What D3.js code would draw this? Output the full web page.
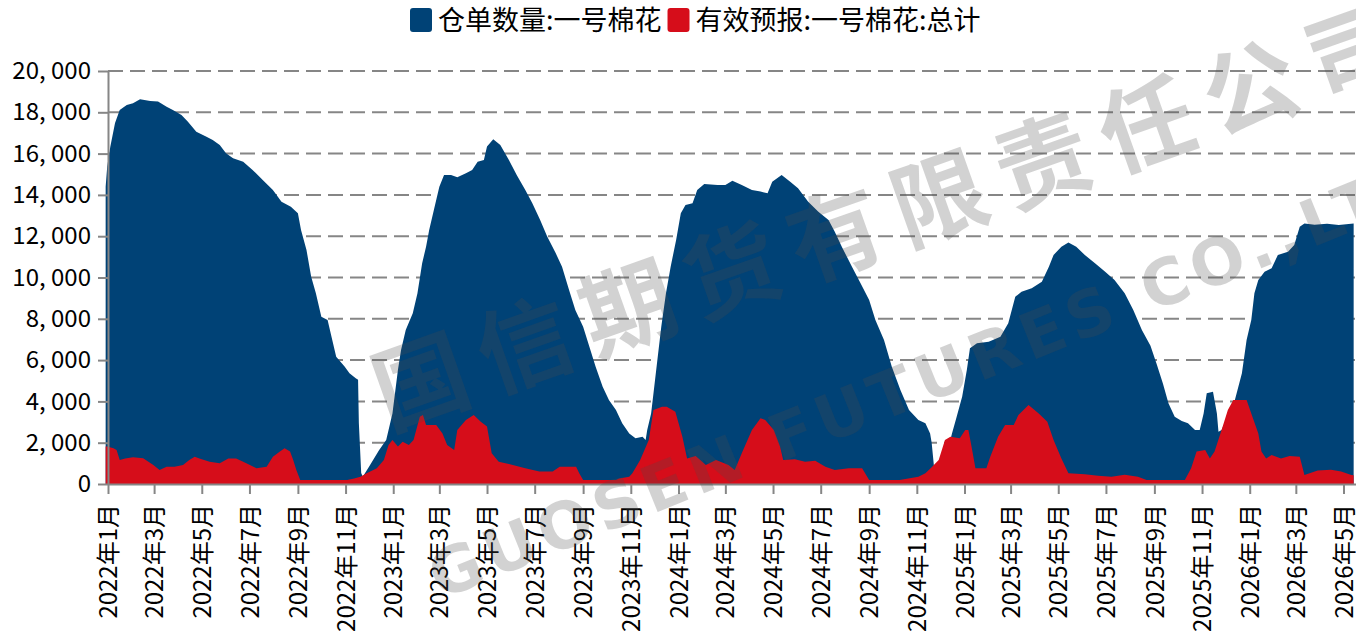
<!DOCTYPE html>
<html>
<head>
<meta charset="utf-8">
<script src="https://cdn.jsdelivr.net/npm/d3@7"></script>
<style>
  body { margin: 0; background: #fff; }
  svg text { font-family: "Noto Sans CJK SC", "Noto Sans", sans-serif; }
</style>
</head>
<body>
<div id="chart"></div>
<script>
// series names
const seriesNames = ["仓单数量:一号棉花", "有效预报:一号棉花:总计"];
const seriesColors = ["#004276", "#d60d1a"];

// 仓单数量 (date, value)
const warrant = [
  ["2021-12-29", 14400], ["2021-12-31", 15370], ["2022-01-04", 16340], ["2022-01-10", 17480],
  ["2022-01-16", 18110], ["2022-01-25", 18350], ["2022-02-02", 18440], ["2022-02-11", 18630],
  ["2022-02-24", 18550], ["2022-03-06", 18520], ["2022-03-17", 18270], ["2022-03-25", 18110],
  ["2022-04-05", 17870], ["2022-04-13", 17550], ["2022-04-24", 17060], ["2022-05-07", 16820],
  ["2022-05-15", 16660], ["2022-05-24", 16420], ["2022-06-01", 16020], ["2022-06-10", 15770],
  ["2022-06-23", 15610], ["2022-07-05", 15210], ["2022-07-18", 14720], ["2022-07-31", 14240],
  ["2022-08-11", 13670], ["2022-08-23", 13430], ["2022-09-01", 13110], ["2022-09-05", 12300],
  ["2022-09-12", 11330], ["2022-09-18", 10040], ["2022-09-24", 9240], ["2022-10-01", 8100],
  ["2022-10-09", 7940], ["2022-10-14", 7130], ["2022-10-20", 6160], ["2022-10-31", 5680],
  ["2022-11-06", 5360], ["2022-11-14", 5120], ["2022-11-17", 5050], ["2022-11-18", 2950],
  ["2022-11-21", 530], ["2022-11-23", 350], ["2022-12-01", 840], ["2022-12-14", 1650],
  ["2022-12-23", 2130], ["2022-12-31", 3420], ["2023-01-07", 5520], ["2023-01-11", 6490],
  ["2023-01-17", 7460], ["2023-01-26", 8270], ["2023-02-01", 9240], ["2023-02-07", 10690],
  ["2023-02-12", 11490], ["2023-02-16", 12300], ["2023-02-22", 13270], ["2023-03-01", 14400],
  ["2023-03-07", 14960], ["2023-03-16", 14960], ["2023-03-24", 14850], ["2023-04-04", 15050],
  ["2023-04-12", 15210], ["2023-04-19", 15610], ["2023-04-27", 15690], ["2023-05-01", 16340],
  ["2023-05-09", 16690], ["2023-05-18", 16420], ["2023-05-29", 15690], ["2023-06-08", 14960],
  ["2023-06-19", 14240], ["2023-06-28", 13590], ["2023-07-08", 12790], ["2023-07-17", 11980],
  ["2023-07-28", 11170], ["2023-08-05", 10520], ["2023-08-14", 9400], ["2023-08-22", 8430],
  ["2023-09-01", 7620], ["2023-09-09", 6650], ["2023-09-17", 5680], ["2023-09-26", 4710],
  ["2023-10-04", 4070], ["2023-10-13", 3580], ["2023-10-21", 2940], ["2023-10-30", 2450],
  ["2023-11-07", 2210], ["2023-11-16", 2290], ["2023-11-20", 2130], ["2023-11-22", 2620],
  ["2023-11-27", 3420], ["2023-12-01", 4710], ["2023-12-05", 6000], ["2023-12-10", 7620],
  ["2023-12-16", 9240], ["2023-12-22", 10520], ["2023-12-29", 11820], ["2024-01-04", 13110],
  ["2024-01-10", 13510], ["2024-01-19", 13590], ["2024-01-25", 14240], ["2024-02-03", 14530],
  ["2024-02-20", 14480], ["2024-03-01", 14480], ["2024-03-10", 14690], ["2024-03-22", 14480],
  ["2024-04-04", 14240], ["2024-04-15", 14160], ["2024-04-24", 14080], ["2024-04-30", 14640],
  ["2024-05-12", 14960], ["2024-05-23", 14640], ["2024-06-02", 14320], ["2024-06-15", 13670],
  ["2024-06-28", 13190], ["2024-07-11", 12790], ["2024-07-19", 12220], ["2024-07-28", 11490],
  ["2024-08-10", 10520], ["2024-08-21", 9720], ["2024-09-01", 8910], ["2024-09-09", 7940],
  ["2024-09-20", 6970], ["2024-09-30", 5680], ["2024-10-11", 4550], ["2024-10-22", 3580],
  ["2024-11-03", 3100], ["2024-11-12", 2940], ["2024-11-18", 2450], ["2024-11-20", 2000],
  ["2024-11-23", 840], ["2024-11-26", 700], ["2024-12-13", 2000], ["2024-12-16", 2450],
  ["2024-12-22", 3260], ["2024-12-29", 4230], ["2025-01-04", 5520], ["2025-01-08", 6570],
  ["2025-01-17", 6810], ["2025-02-01", 6890], ["2025-02-16", 7130], ["2025-02-26", 7780],
  ["2025-03-07", 9070], ["2025-03-15", 9310], ["2025-03-28", 9480], ["2025-04-10", 9800],
  ["2025-04-19", 10520], ["2025-04-25", 11090], ["2025-05-05", 11490], ["2025-05-14", 11690],
  ["2025-05-24", 11490], ["2025-06-04", 11090], ["2025-06-17", 10690], ["2025-06-30", 10280],
  ["2025-07-12", 9880], ["2025-07-25", 9240], ["2025-08-05", 8430], ["2025-08-16", 7460],
  ["2025-08-27", 6700], ["2025-09-04", 5800], ["2025-09-12", 4850], ["2025-09-19", 3910],
  ["2025-09-27", 3260], ["2025-10-06", 3050], ["2025-10-14", 2940], ["2025-10-23", 2620],
  ["2025-10-29", 2620], ["2025-11-03", 3420], ["2025-11-07", 4390], ["2025-11-15", 4470],
  ["2025-11-20", 3420], ["2025-11-22", 2530], ["2025-11-26", 2620], ["2025-12-13", 4070],
  ["2025-12-22", 5360], ["2025-12-28", 6970], ["2026-01-03", 7940], ["2026-01-07", 9240],
  ["2026-01-12", 9880], ["2026-01-20", 10280], ["2026-01-29", 10450], ["2026-02-06", 11090],
  ["2026-02-19", 11250], ["2026-02-27", 11570], ["2026-03-06", 12460], ["2026-03-12", 12620],
  ["2026-03-25", 12560], ["2026-04-10", 12600], ["2026-04-25", 12540], ["2026-05-14", 12620]
];

// 有效预报 (date, value)
const forecast = [
  ["2021-12-29", 1810], ["2021-12-31", 1810], ["2022-01-08", 1730], ["2022-01-12", 1650],
  ["2022-01-16", 1160], ["2022-01-23", 1240], ["2022-02-02", 1290], ["2022-02-15", 1250],
  ["2022-02-28", 920], ["2022-03-08", 680], ["2022-03-17", 840], ["2022-03-27", 840],
  ["2022-04-07", 920], ["2022-04-15", 1160], ["2022-04-22", 1320], ["2022-04-28", 1240],
  ["2022-05-11", 1080], ["2022-05-24", 1000], ["2022-06-04", 1240], ["2022-06-14", 1240],
  ["2022-06-27", 1000], ["2022-07-10", 760], ["2022-07-23", 840], ["2022-07-31", 1320],
  ["2022-08-09", 1570], ["2022-08-15", 1730], ["2022-08-22", 1570], ["2022-08-26", 1160],
  ["2022-08-30", 680], ["2022-09-04", 190], ["2022-11-03", 190], ["2022-11-12", 270],
  ["2022-11-20", 350], ["2022-11-28", 515], ["2022-12-11", 760], ["2022-12-20", 1160],
  ["2022-12-26", 1890], ["2022-12-31", 2130], ["2023-01-07", 1810], ["2023-01-13", 2050],
  ["2023-01-21", 1890], ["2023-01-27", 2130], ["2023-02-04", 3260], ["2023-02-08", 3340],
  ["2023-02-12", 2860], ["2023-02-25", 2860], ["2023-03-05", 2450], ["2023-03-11", 1890],
  ["2023-03-20", 1650], ["2023-03-24", 2620], ["2023-04-04", 3100], ["2023-04-14", 3340],
  ["2023-04-23", 3020], ["2023-05-01", 2780], ["2023-05-07", 1490], ["2023-05-16", 1080],
  ["2023-06-03", 920], ["2023-06-19", 760], ["2023-07-07", 600], ["2023-07-24", 600],
  ["2023-08-02", 840], ["2023-08-23", 840], ["2023-08-27", 520], ["2023-09-01", 190],
  ["2023-10-13", 190], ["2023-10-17", 270], ["2023-10-30", 350], ["2023-11-03", 520],
  ["2023-11-13", 1160], ["2023-11-24", 2130], ["2023-11-30", 3580], ["2023-12-11", 3740],
  ["2023-12-17", 3740], ["2023-12-28", 3500], ["2024-01-06", 2290], ["2024-01-12", 1240],
  ["2024-01-23", 1360], ["2024-02-05", 920], ["2024-02-18", 1160], ["2024-03-05", 920],
  ["2024-03-13", 680], ["2024-03-22", 1490], ["2024-04-04", 2620], ["2024-04-15", 3180],
  ["2024-04-21", 3100], ["2024-05-02", 2620], ["2024-05-10", 1810], ["2024-05-14", 1160],
  ["2024-05-29", 1200], ["2024-06-11", 1080], ["2024-06-24", 1130], ["2024-07-07", 840],
  ["2024-07-19", 680], ["2024-08-06", 760], ["2024-08-23", 760], ["2024-09-01", 190],
  ["2024-10-10", 190], ["2024-11-03", 350], ["2024-11-12", 520], ["2024-11-20", 810],
  ["2024-11-29", 1160], ["2024-12-07", 2130], ["2024-12-14", 2290], ["2024-12-26", 2210],
  ["2025-01-02", 2620], ["2025-01-06", 2620], ["2025-01-10", 1810], ["2025-01-15", 760],
  ["2025-01-29", 760], ["2025-02-03", 1320], ["2025-02-13", 2290], ["2025-02-22", 2860],
  ["2025-03-05", 2860], ["2025-03-11", 3340], ["2025-03-24", 3830], ["2025-04-06", 3420],
  ["2025-04-17", 3020], ["2025-04-25", 2130], ["2025-05-05", 1240], ["2025-05-14", 520],
  ["2025-06-04", 470], ["2025-06-21", 400], ["2025-07-08", 350], ["2025-07-25", 450],
  ["2025-08-11", 350], ["2025-08-22", 190], ["2025-10-10", 190], ["2025-10-18", 760],
  ["2025-10-25", 1570], ["2025-11-05", 1650], ["2025-11-11", 1240], ["2025-11-17", 1570],
  ["2025-11-26", 2620], ["2025-12-04", 3580], ["2025-12-11", 4070], ["2025-12-28", 4070],
  ["2026-01-03", 3420], ["2026-01-12", 2450], ["2026-01-16", 1570], ["2026-01-22", 1240],
  ["2026-01-29", 1400], ["2026-02-10", 1240], ["2026-02-21", 1350], ["2026-03-06", 1320],
  ["2026-03-12", 440], ["2026-03-29", 650], ["2026-04-15", 690], ["2026-04-28", 600],
  ["2026-05-11", 440], ["2026-05-14", 420]
];

const yTicks = [0, 2000, 4000, 6000, 8000, 10000, 12000, 14000, 16000, 18000, 20000];
const xStart = "2022-01-01";
const xEnd = "2026-05-17";

const watermarkCn = "国信期货有限责任公司";
const watermarkEn = "GUOSEN FUTURES CO.,LTD";

const W = 1356, H = 635;
const margin = { top: 71, right: 0, bottom: 151, left: 108 };
const width = W - margin.left - margin.right;
const height = H - margin.top - margin.bottom;

const parse = d3.timeParse("%Y-%m-%d");
const toPts = arr => arr.map(d => ({ date: parse(d[0]), value: d[1] }));
const series = [toPts(warrant), toPts(forecast)];

const svg = d3.select("#chart")
    .append("svg")
    .attr("width", W)
    .attr("height", H);

const g = svg.append("g")
    .attr("transform", `translate(${margin.left}, ${margin.top})`);

const x = d3.scaleTime()
    .domain([parse(xStart), parse(xEnd)])
    .range([0, width]);

const y = d3.scaleLinear()
    .domain([0, 20000])
    .range([height, 0]);

// dashed gridlines
g.append("g")
    .selectAll("line")
    .data(yTicks.filter(d => d > 0))
    .join("line")
    .attr("x1", 0)
    .attr("x2", width)
    .attr("y1", d => y(d))
    .attr("y2", d => y(d))
    .attr("stroke", "#868686")
    .attr("stroke-width", 2)
    .attr("stroke-dasharray", "15,7");

// areas
const area = d3.area()
    .x(d => x(d.date))
    .y0(y(0))
    .y1(d => y(d.value));

series.forEach((s, i) => {
    g.append("path")
        .datum(s)
        .attr("fill", seriesColors[i])
        .attr("d", area);
});

// watermark
const wm = svg.append("g")
    .attr("fill", "#4a4a4a")
    .attr("fill-opacity", 0.25)
    .style("pointer-events", "none");

wm.append("text")
    .attr("transform", "translate(388, 430) rotate(-19.5)")
    .attr("font-size", 94)
    .attr("font-weight", "bold")
    .attr("letter-spacing", 16)
    .text(watermarkCn);

wm.append("text")
    .attr("transform", "translate(440, 600) rotate(-22)")
    .style("font-family", "'DejaVu Sans', sans-serif")
    .attr("font-size", 64)
    .attr("font-weight", "bold")
    .attr("letter-spacing", 6)
    .text(watermarkEn);

// x axis
const xAxis = g.append("g")
    .attr("transform", `translate(0, ${height})`)
    .call(d3.axisBottom(x)
        .ticks(d3.timeMonth.every(2))
        .tickSize(10)
        .tickSizeOuter(0)
        .tickPadding(8)
        .tickFormat(d => `${d.getFullYear()}年${d.getMonth() + 1}月`));

xAxis.select(".domain").attr("stroke", "#868686").attr("stroke-width", 2);
xAxis.selectAll(".tick line").attr("stroke", "#868686").attr("stroke-width", 2);
xAxis.selectAll(".tick text")
    .attr("font-size", 24)
    .attr("fill", "#000")
    .attr("transform", "rotate(-90)")
    .attr("text-anchor", "end")
    .attr("x", -20)
    .attr("y", 0)
    .attr("dy", "0.36em");

// y axis
const yAxis = g.append("g")
    .call(d3.axisLeft(y)
        .tickValues(yTicks)
        .tickSize(10)
        .tickSizeOuter(0)
        .tickPadding(7)
        .tickFormat(d => d3.format(",")(d).replace(",", ", ")));

yAxis.select(".domain").attr("stroke", "#868686").attr("stroke-width", 2);
yAxis.selectAll(".tick line").attr("stroke", "#868686").attr("stroke-width", 2);
yAxis.selectAll(".tick text")
    .attr("font-size", 24)
    .attr("fill", "#000");

// legend
const legend = svg.append("g").attr("transform", "translate(410, 0)");
let lx = 0;
seriesNames.forEach((name, i) => {
    legend.append("rect")
        .attr("x", lx)
        .attr("y", 8)
        .attr("width", 22)
        .attr("height", 24)
        .attr("rx", 3)
        .attr("fill", seriesColors[i]);
    const t = legend.append("text")
        .attr("x", lx + 28)
        .attr("y", 30)
        .attr("font-size", 27)
        .attr("fill", "#000")
        .text(name);
    lx += 28 + t.node().getComputedTextLength() + 6;
});
</script>
</body>
</html>
